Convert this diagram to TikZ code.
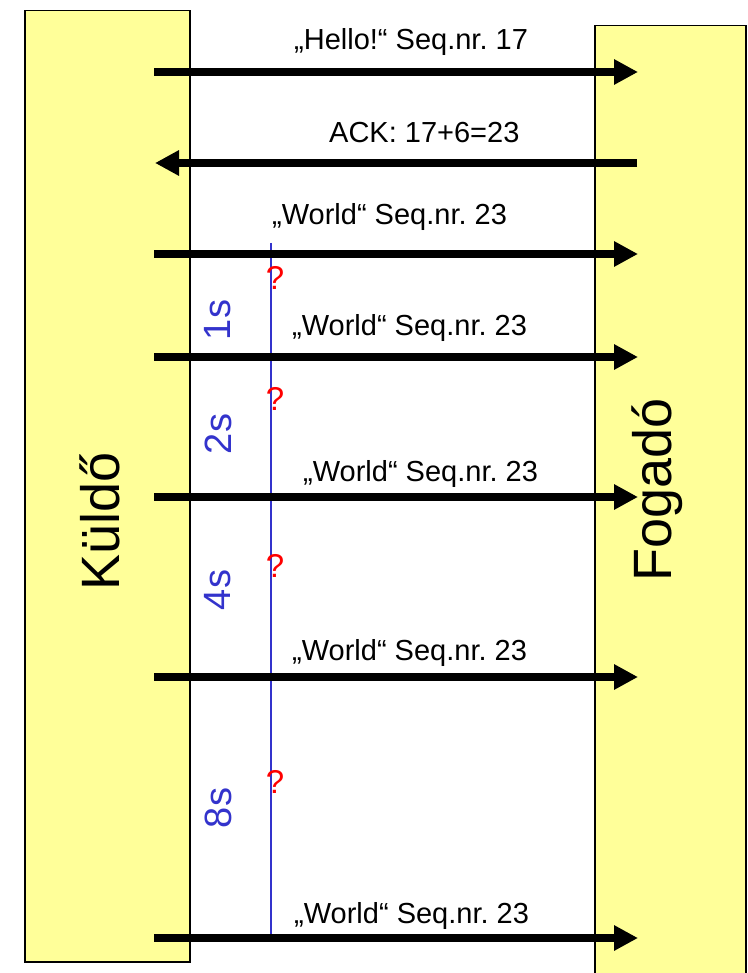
\documentclass[tikz,border=0pt]{standalone}
\usepackage{fontspec}
\setmainfont{Liberation Sans}
\usetikzlibrary{arrows.meta}
\definecolor{boxyellow}{HTML}{FFFF99}
\definecolor{tblue}{HTML}{3333CC}
\frenchspacing
\begin{document}
\begin{tikzpicture}[x=1pt,y=-1pt,
  party/.style={draw=black, line width=1.5pt, fill=boxyellow, anchor=north west, inner sep=0pt},
  msg/.style={line width=8pt, -{Triangle[length=24pt,width=24pt]}},
  lbl/.style={font=\fontsize{29}{33}\selectfont, inner sep=0pt, anchor=base west},
  partyname/.style={font=\fontsize{54}{60}\selectfont, inner sep=0pt, rotate=90},
  tlbl/.style={font=\fontsize{38}{42}\selectfont, text=tblue, inner sep=0pt, rotate=90},
  qm/.style={font=\fontsize{33}{38}\selectfont, text=red, inner sep=0pt},
  tline/.style={draw=tblue, line width=1.2pt}
]
\useasboundingbox (0,0) rectangle (747,973);
\clip (0,0) rectangle (747,973);
\fill[white] (0,0) rectangle (747,973);
% parties
\node[party, minimum width=165pt, minimum height=951pt] (kuldo) at (24,10) {};
\node[party, minimum width=151pt, minimum height=965pt] (fogado) at (594,25) {};
\node[partyname] (kuldoname) at (100,521) {Küldő};
\node[partyname] (fogadoname) at (657,490) {Fogadó};
% timeline
\coordinate (tl1) at (271,243);
\coordinate (tl2) at (271,940);
\draw[tline] (tl1) -- (tl2);
% message endpoints
\foreach \n/\y in {a/72,c/254,d/357,e/497,f/677,g/938}{
  \coordinate (s\n) at (154,\y);
  \coordinate (r\n) at (638,\y);
}
\coordinate (sb) at (155,163);
\coordinate (rb) at (637,163);
\draw[msg] (sa) -- (ra);
\draw[msg] (rb) -- (sb);
\draw[msg] (sc) -- (rc);
\draw[msg] (sd) -- (rd);
\draw[msg] (se) -- (re);
\draw[msg] (sf) -- (rf);
\draw[msg] (sg) -- (rg);
% labels
\node[lbl] (la) at (294,50) {„Hello!“ Seq.nr. 17};
\node[lbl] (lb) at (329,143) {ACK: 17+6=23};
\node[lbl] (lc) at (272,225) {„World“ Seq.nr. 23};
\node[lbl] (ld) at (292,335) {„World“ Seq.nr. 23};
\node[lbl] (le) at (303,481) {„World“ Seq.nr. 23};
\node[lbl] (lf) at (292,660) {„World“ Seq.nr. 23};
\node[lbl] (lg) at (294,923) {„World“ Seq.nr. 23};
% timeouts
\node[tlbl] (t1) at (218,320) {1s};
\node[tlbl] (t2) at (218,434) {2s};
\node[tlbl] (t3) at (218,590) {4s};
\node[tlbl] (t4) at (218,808) {8s};
\node[qm] (q1) at (275,278) {?};
\node[qm] (q2) at (275,399) {?};
\node[qm] (q3) at (275,566) {?};
\node[qm] (q4) at (275,782) {?};
\end{tikzpicture}
\end{document}
